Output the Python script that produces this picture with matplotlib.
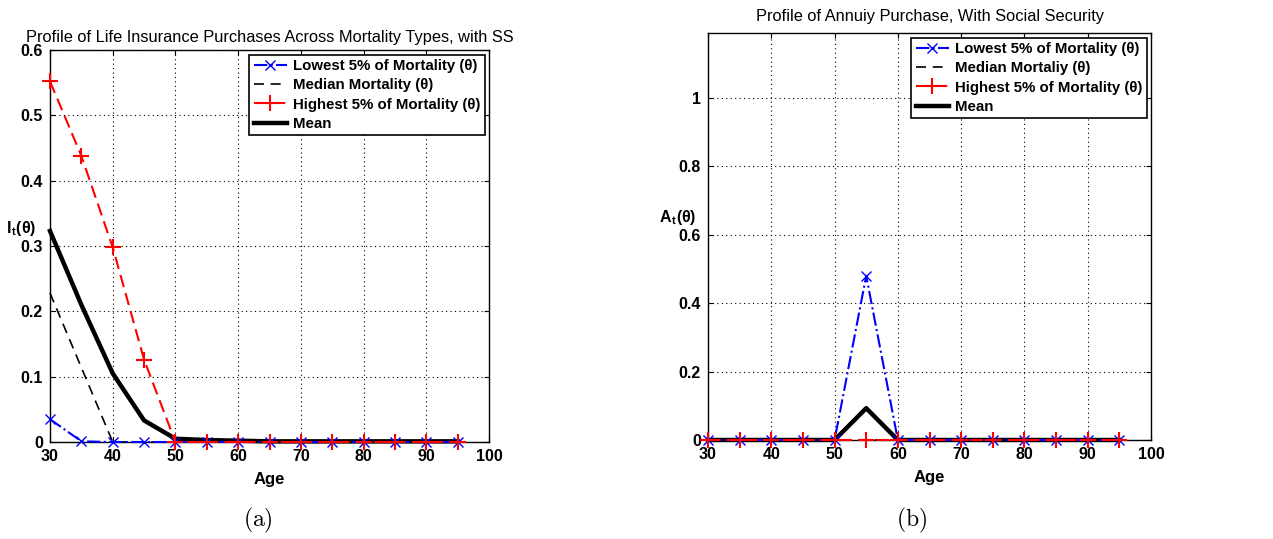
import matplotlib.pyplot as plt

ages = [30, 35, 40, 45, 50, 55, 60, 65, 70, 75, 80, 85, 90, 95]

# panel (a): life insurance purchases
ins_low = [0.035, 0.001, 0.0, 0.0, 0.0, 0.0, 0.0, 0.0, 0.0, 0.0, 0.0, 0.0, 0.0, 0.0]
ins_median = [0.228, 0.114, 0.0, 0.0, 0.0, 0.0, 0.0, 0.0, 0.0, 0.0, 0.0, 0.0, 0.0, 0.0]
ins_high = [0.552, 0.438, 0.298, 0.126, 0.0, 0.0, 0.0, 0.0, 0.0, 0.0, 0.0, 0.0, 0.0, 0.0]
ins_mean = [0.323, 0.21, 0.105, 0.033, 0.005, 0.003, 0.002, 0.001, 0.001, 0.001, 0.001, 0.001, 0.001, 0.001]

# panel (b): annuity purchases
ann_low = [0.0, 0.0, 0.0, 0.0, 0.0, 0.48, 0.0, 0.0, 0.0, 0.0, 0.0, 0.0, 0.0, 0.0]
ann_median = [0.0] * 14
ann_high = [0.0] * 14
ann_mean = [0.0, 0.0, 0.0, 0.0, 0.0, 0.093, 0.0, 0.0, 0.0, 0.0, 0.0, 0.0, 0.0, 0.0]

plt.rcParams['font.family'] = ['Liberation Sans', 'DejaVu Sans']
plt.rcParams['mathtext.fontset'] = 'cm'

fig = plt.figure(figsize=(12.73, 5.39), dpi=100)
ax1 = fig.add_axes([50 / 1273, 1 - 442 / 539, 439 / 1273, 392 / 539])
ax2 = fig.add_axes([708 / 1273, 1 - 440 / 539, 443 / 1273, 407 / 539])


def draw_panel(ax, low, median, high, mean, med_label):
    ax.plot(ages, low, color='blue', linestyle='-.', marker='x', ms=7, lw=1.5,
            clip_on=False, zorder=4, label='Lowest 5% of Mortality (θ)')
    ax.plot(ages, median, color='black', linestyle=(0, (6, 4)), lw=1.2,
            clip_on=False, zorder=3, label=med_label)
    ax.plot(ages, high, color='red', linestyle=(0, (6, 3)), marker='+', ms=11,
            mew=1.5, lw=1.5, clip_on=False, zorder=4,
            label='Highest 5% of Mortality (θ)')
    ax.plot(ages, mean, color='black', lw=3.2, clip_on=False, zorder=3,
            label='Mean')
    ax.set_xlim(30, 100)
    ax.set_xticks(range(30, 101, 10))
    ax.grid(True, color='black', linestyle=(0, (1, 3)), lw=0.8)
    ax.tick_params(direction='in', labelsize=11.5, pad=5, right=True, top=True)
    for lab in ax.get_xticklabels() + ax.get_yticklabels():
        lab.set_fontweight('bold')
    ax.set_xlabel('Age', fontsize=12, fontweight='bold', labelpad=6)
    leg = ax.legend(loc='upper right', fontsize=10.8, fancybox=False,
                    edgecolor='black', framealpha=1, borderpad=0.3,
                    labelspacing=0.35, handlelength=2.2, handletextpad=0.4,
                    borderaxespad=0.3)
    leg.set_zorder(6)
    leg.get_frame().set_linewidth(1.2)
    for t in leg.get_texts():
        t.set_fontweight('bold')
    for s in ax.spines.values():
        s.set_linewidth(1.0)


draw_panel(ax1, ins_low, ins_median, ins_high, ins_mean, 'Median Mortality (θ)')
ax1.set_ylim(0, 0.6)
ax1.set_yticks([0, 0.1, 0.2, 0.3, 0.4, 0.5, 0.6])
ax1.set_yticklabels(['0', '0.1', '0.2', '0.3', '0.4', '0.5', '0.6'], fontweight='bold')
ax1.set_title('Profile of Life Insurance Purchases Across Mortality Types, with SS',
              fontsize=11.8, pad=6)
fig.text(6 / 1273, 1 - 229 / 539, r'I$_\mathregular{t}$(θ)', fontsize=11.5,
         fontweight='bold', ha='left', va='center')

draw_panel(ax2, ann_low, ann_median, ann_high, ann_mean, 'Median Mortaliy (θ)')
ax2.set_ylim(0, 1.19)
ax2.set_yticks([0, 0.2, 0.4, 0.6, 0.8, 1.0])
ax2.set_yticklabels(['0', '0.2', '0.4', '0.6', '0.8', '1'], fontweight='bold')
ax2.set_title('Profile of Annuiy Purchase, With Social Security', fontsize=11.8, pad=9)
fig.text(659 / 1273, 1 - 218 / 539, r'A$_\mathregular{t}$(θ)', fontsize=11.5,
         fontweight='bold', ha='left', va='center')

fig.text(258 / 1273, 1 - 520 / 539, r'$\mathrm{(a)}$', fontsize=17, ha='center', va='center')
fig.text(912 / 1273, 1 - 520 / 539, r'$\mathrm{(b)}$', fontsize=17, ha='center', va='center')

fig.savefig('out.png', dpi=100)
